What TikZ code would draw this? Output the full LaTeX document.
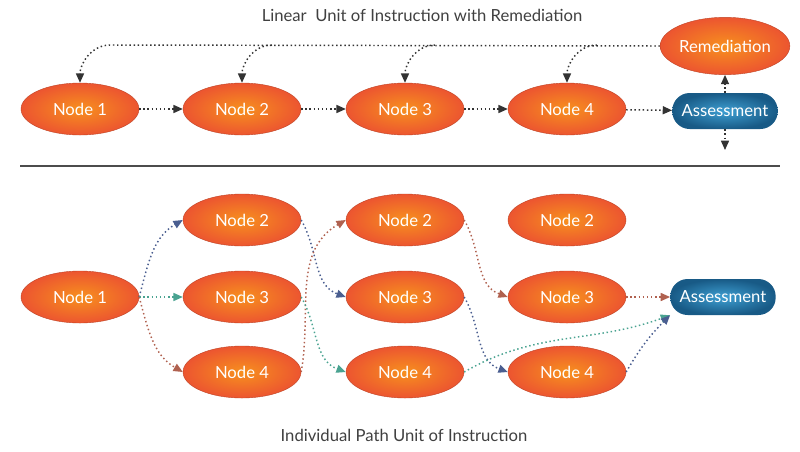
\documentclass[tikz,border=0pt]{standalone}
\usepackage{fontspec}
\setmainfont{Lato}
\usetikzlibrary{shapes.geometric,arrows.meta}
\definecolor{orin}{HTML}{F7901E}
\definecolor{orout}{HTML}{EC5530}
\definecolor{bin}{HTML}{3E9FD2}
\definecolor{bout}{HTML}{185A86}
\definecolor{ablue}{HTML}{4A5E90}
\definecolor{ateal}{HTML}{4AA391}
\definecolor{abrown}{HTML}{B0614F}
\definecolor{adark}{HTML}{333333}
\tikzset{
 nd/.style={ellipse,minimum width=88.5pt,minimum height=39pt,inner sep=0pt,shading=radial,inner color=orin,outer color=orout,draw=orout!80!black,line width=0.3pt,text=white,font=\fontsize{12.5}{14}\selectfont},
 rem/.style={nd,minimum width=85pt,minimum height=43pt},
 asm/.style={rounded corners=13pt,minimum width=79pt,minimum height=27pt,inner sep=0pt,shading=radial,inner color=bin,outer color=bout,text=white,font=\fontsize{12.5}{14}\selectfont},
 con/.style={dotted,line width=1.1pt,-{Triangle[length=7pt,width=6pt]}},
 ttl/.style={font=\fontsize{12.5}{14}\selectfont,text=black!75}
}
\begin{document}
\begin{tikzpicture}[x=0.75pt,y=-0.75pt]
\useasboundingbox (0,0) rectangle (800,451);
\node[ttl] (t1) at (422,15) {Linear\ \ Unit of Instruction with Remediation};
\node[ttl] (t2) at (404,435) {Individual Path Unit of Instruction};
\draw[black!70,line width=0.8pt] (20,166) -- (780,166);
% top row
\node[nd] (a1) at (80,109) {Node 1};
\node[nd] (a2) at (242,109) {Node 2};
\node[nd] (a3) at (405,109) {Node 3};
\node[nd] (a4) at (567,109) {Node 4};
\node[asm] (as) at (725,111) {Assessment};
\node[rem] (rm) at (725,46) {Remediation};
\coordinate (rl) at (110,45);
\coordinate (b2) at (272,45);
\coordinate (b3) at (435,45);
\coordinate (b4) at (597,45);
\coordinate (dn) at (725,150);
\foreach \a/\b in {a1/a2,a2/a3,a3/a4,a4/as}
  \draw[con,adark] (\a) -- (\b);
\draw[con,adark] (rm.west) -- (rl) to[out=180,in=90] (a1.north);
\foreach \c/\n in {b2/a2,b3/a3,b4/a4}
  \draw[con,adark] (\c) to[out=180,in=90] (\n.north);
\draw[con,adark] (as.north) -- (rm.south);
\draw[con,adark] (as.south) -- (dn);
% bottom
\node[nd] (n1) at (80,297) {Node 1};
\node[nd] (p2) at (242,220) {Node 2};
\node[nd] (p3) at (242,297) {Node 3};
\node[nd] (p4) at (242,372) {Node 4};
\node[nd] (q2) at (405,220) {Node 2};
\node[nd] (q3) at (405,297) {Node 3};
\node[nd] (q4) at (405,372) {Node 4};
\node[nd] (r2) at (567,220) {Node 2};
\node[nd] (r3) at (567,297) {Node 3};
\node[nd] (r4) at (567,372) {Node 4};
\node[asm] (bs) at (723,297) {Assessment};
\draw[con,ablue] (n1.east) to[out=75,in=210] (p2.west);
\draw[con,ateal] (n1.east) -- (p3.west);
\draw[con,abrown] (n1.east) to[out=-75,in=150] (p4.west);
\draw[con,ablue] (p2.east) to[out=-60,in=160] (q3.west);
\draw[con,abrown] (p4.east) to[out=80,in=210] (q2.west);
\draw[con,ateal] (p3.east) to[out=-60,in=160] (q4.west);
\draw[con,abrown] (q2.east) to[out=-60,in=160] (r3.west);
\draw[con,ablue] (q3.east) to[out=-60,in=160] (r4.west);
\draw[con,ateal] (q4.east) to[out=30,in=200] (bs.south west);
\draw[con,abrown] (r3.east) -- (bs.west);
\draw[con,ablue] (r4.east) to[out=60,in=225] (bs.south west);
\end{tikzpicture}
\end{document}
